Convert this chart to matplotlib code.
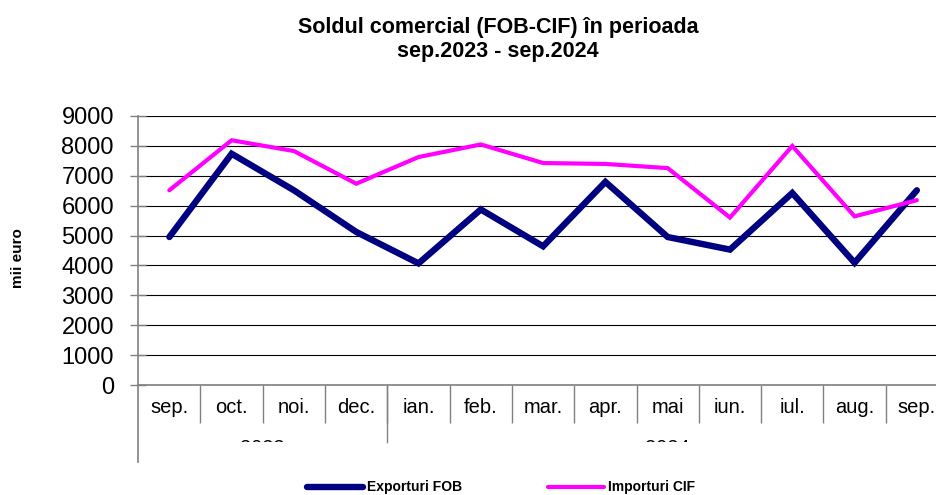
import matplotlib
matplotlib.use("Agg")
import matplotlib.pyplot as plt
from matplotlib.lines import Line2D
from matplotlib.transforms import Bbox, TransformedBbox, blended_transform_factory

plt.rcParams['font.family'] = ['Liberation Sans', 'DejaVu Sans']

# date: soldul comercial, mii euro
luni = ['sep.', 'oct.', 'noi.', 'dec.', 'ian.', 'feb.', 'mar.', 'apr.', 'mai', 'iun.', 'iul.', 'aug.', 'sep.']
ani = ['2023', '2024']
luni_pe_an = [4, 9]
exporturi = [4950, 7730, 6510, 5120, 4070, 5870, 4640, 6790, 4950, 4530, 6420, 4090, 6510]
importuri = [6510, 8180, 7820, 6730, 7620, 8040, 7420, 7390, 7250, 5600, 7990, 5640, 6180]

W, H = 937, 495
fig = plt.figure(figsize=(W / 100, H / 100), dpi=100)
ax = fig.add_axes([138.2 / W, 1 - 385.3 / H, 809.8 / W, 269.6 / H])

x = list(range(len(luni)))
ax.plot(x, exporturi, color='#000080', lw=4.6, solid_capstyle='round', solid_joinstyle='miter',
        label='Exporturi FOB', zorder=3)
ax.plot(x, importuri, color='#FF00FF', lw=3.0, solid_capstyle='round', solid_joinstyle='miter',
        label='Importuri CIF', zorder=3)

ax.set_xlim(-0.5, len(luni) - 0.5)
ax.set_ylim(0, 9000)
ax.set_yticks(range(0, 9001, 1000))
ax.yaxis.grid(True, color='black', lw=0.8)
ax.set_axisbelow(True)
ax.tick_params(axis='y', direction='inout', length=11, width=1, color='#808080',
               labelsize=17, pad=12)

ax.set_xticks(x)
ax.set_xticklabels(luni, fontsize=14.5)
ax.tick_params(axis='x', which='major', length=0, pad=9)
ax.set_xticks([i - 0.5 for i in range(1, len(luni))], minor=True)
ax.tick_params(axis='x', which='minor', direction='out', length=27, width=1, color='#808080')

for s in ['top', 'right']:
    ax.spines[s].set_visible(False)
ax.spines['left'].set_color('#808080')
ax.spines['bottom'].set_color('#808080')
ax.spines['left'].set_linewidth(1.2)
ax.spines['bottom'].set_linewidth(1.2)

ax.set_ylabel('mii euro', fontsize=11, fontweight='bold')
ax.yaxis.set_label_coords(-(138.2 - 25) / 809.8, (385.3 - 258) / 269.6)

# linii de sub axa: axa stanga prelungita si separatorul de an
tr = blended_transform_factory(ax.transData, ax.transAxes)
ax.add_line(Line2D([-0.5, -0.5], [0, -77 / 269.6], transform=tr, color='#808080', lw=1.2, clip_on=False))
ax.add_line(Line2D([3.5, 3.5], [0, -57 / 269.6], transform=tr, color='#808080', lw=1, clip_on=False))

# etichetele anilor (taiate, se vede doar partea de sus)
clip = TransformedBbox(Bbox([[0, 1 - 442 / H], [1, 1]]), fig.transFigure)
start = 0
for an, n in zip(ani, luni_pe_an):
    t = ax.text((start + start + n - 1) / 2, -(439.5 - 385.3) / 269.6, an, transform=tr,
                ha='center', va='top', fontsize=14.5, clip_on=True)
    t.set_clip_box(clip)
    start += n

fig.text(498 / W, 1 - 39.5 / H, 'Soldul comercial (FOB-CIF) în perioada\nsep.2023 - sep.2024',
         ha='center', va='center', fontsize=15.5, fontweight='bold', linespacing=1.2)

fig.legend(loc='center', bbox_to_anchor=(501 / W, 1 - 487.5 / H), ncol=2, frameon=False,
           prop={'size': 10, 'weight': 'bold'}, handlelength=4.0, handletextpad=0.3,
           columnspacing=6.2, borderpad=0)

fig.savefig('out.png', dpi=100)
